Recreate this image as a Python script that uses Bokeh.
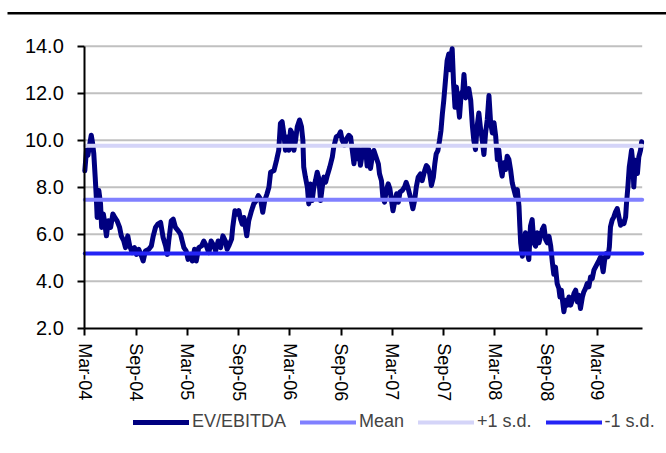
import pandas as pd
from bokeh.plotting import figure
from bokeh.models import (Range1d, FixedTicker, NumeralTickFormatter, DatetimeTickFormatter,
                          Legend, LegendItem, BoxAnnotation)
from bokeh.embed import file_html
from bokeh.resources import INLINE

# EV/EBITDA history: observation day (days after series start) and multiple
series_start = pd.Timestamp("2004-03-01")
day_offset = [
    0, 6, 11, 17, 23, 27, 32, 37, 41, 44, 50, 56, 60, 66, 70, 77, 84, 92, 100, 107,
    115, 124, 130, 139, 145, 153, 160, 169, 177, 184, 192, 202, 208, 216, 228, 237, 244, 252, 260, 270,
    279, 288, 294, 299, 308, 315, 323, 333, 341, 347, 353, 361, 368, 377, 383, 391, 397, 406, 416, 424,
    433, 442, 450, 460, 466, 475, 484, 492, 501, 507, 513, 523, 527, 535, 543, 549, 555, 561, 567, 577,
    584, 594, 602, 611, 618, 626, 634, 641, 649, 656, 662, 674, 683, 691, 697, 703, 709, 715, 721, 727,
    733, 739, 745, 751, 757, 765, 772, 777, 780, 786, 793, 798, 804, 810, 816, 822, 828, 834, 840, 846,
    852, 858, 864, 873, 882, 887, 896, 905, 911, 917, 925, 933, 941, 947, 953, 959, 965, 971, 976, 982,
    992, 1000, 1006, 1012, 1018, 1024, 1030, 1036, 1046, 1050, 1057, 1062, 1068, 1074, 1081, 1087, 1093, 1098, 1105, 1111,
    1117, 1123, 1131, 1139, 1145, 1151, 1157, 1163, 1169, 1175, 1181, 1188, 1196, 1202, 1211, 1217, 1222, 1229, 1235, 1242,
    1247, 1252, 1258, 1264, 1269, 1274, 1279, 1285, 1291, 1297, 1301, 1305, 1309, 1314, 1319, 1324, 1329, 1335, 1341, 1347,
    1351, 1357, 1363, 1368, 1375, 1381, 1386, 1392, 1398, 1404, 1410, 1416, 1422, 1428, 1434, 1440, 1446, 1452, 1458, 1464,
    1470, 1475, 1481, 1487, 1493, 1499, 1505, 1511, 1517, 1523, 1529, 1535, 1541, 1547, 1550, 1553, 1559, 1564, 1570, 1577,
    1582, 1588, 1594, 1600, 1606, 1612, 1618, 1624, 1630, 1636, 1642, 1648, 1654, 1660, 1666, 1671, 1677, 1683, 1689, 1693,
    1698, 1702, 1707, 1713, 1719, 1725, 1731, 1737, 1743, 1749, 1755, 1760, 1766, 1773, 1778, 1784, 1790, 1796, 1802, 1808,
    1814, 1820, 1826, 1832, 1838, 1844, 1847, 1852, 1858, 1864, 1869, 1873, 1879, 1885, 1891, 1897, 1903, 1909, 1915, 1921,
    1927, 1930, 1935, 1940, 1945, 1948, 1953, 1956, 1962, 1969, 1974, 1980, 1984,
]
ev_ebitda = [
    8.70, 9.57, 9.36, 9.79, 10.21, 9.93, 9.43, 8.43, 7.57, 6.71, 7.86, 7.29, 6.29, 6.86, 6.57, 5.93, 6.57, 6.29, 6.86, 6.71,
    6.57, 6.29, 5.93, 5.71, 5.43, 5.93, 5.50, 5.21, 5.43, 5.14, 5.36, 5.07, 4.86, 5.29, 5.36, 5.50, 5.93, 6.29, 6.43, 6.50,
    5.86, 5.50, 5.14, 5.71, 6.57, 6.64, 6.29, 6.14, 6.00, 5.71, 5.43, 5.29, 4.93, 5.14, 4.86, 5.36, 4.86, 5.43, 5.50, 5.71,
    5.50, 5.21, 5.71, 5.50, 5.29, 5.71, 5.43, 5.93, 5.71, 5.36, 5.50, 5.79, 6.29, 7.00, 6.86, 7.00, 6.64, 6.43, 6.71, 5.93,
    6.57, 7.00, 7.29, 7.43, 7.64, 7.50, 6.93, 7.43, 7.71, 8.00, 8.64, 8.71, 9.14, 9.57, 10.71, 10.79, 10.29, 9.57, 10.14, 9.57,
    10.43, 10.29, 9.57, 10.00, 10.57, 10.86, 10.57, 10.00, 8.86, 8.43, 8.00, 7.29, 8.14, 7.43, 8.00, 8.29, 8.64, 8.36, 7.43, 8.00,
    8.43, 8.21, 8.50, 8.86, 9.29, 9.71, 10.14, 10.21, 10.36, 10.00, 9.79, 10.07, 10.21, 10.14, 9.57, 9.00, 9.71, 9.21, 9.64, 8.93,
    9.64, 9.70, 8.90, 9.60, 8.80, 9.28, 9.56, 9.35, 8.99, 8.57, 8.28, 7.57, 7.36, 7.86, 8.14, 7.93, 7.43, 7.00, 7.43, 7.72,
    7.36, 7.79, 7.86, 8.00, 8.21, 8.00, 7.72, 7.43, 7.08, 7.43, 8.00, 8.43, 8.57, 8.28, 8.71, 8.92, 8.85, 8.57, 8.07, 8.43,
    8.99, 9.42, 9.56, 9.99, 10.41, 11.12, 11.69, 12.54, 13.39, 13.67, 13.00, 13.60, 13.89, 12.40, 11.40, 12.26, 11.69, 10.98, 11.97, 12.11,
    12.80, 11.80, 12.04, 12.20, 11.70, 10.60, 10.00, 9.60, 10.60, 11.16, 10.50, 10.03, 9.39, 10.31, 10.88, 11.90, 10.74, 10.31, 10.74, 10.17,
    9.18, 9.60, 8.89, 8.47, 9.04, 8.75, 9.32, 9.18, 8.75, 8.18, 7.90, 7.62, 7.90, 7.19, 6.34, 5.63, 5.06, 5.63, 6.06, 5.20,
    4.92, 6.34, 6.62, 5.63, 5.49, 6.06, 5.63, 5.91, 6.20, 6.34, 5.77, 5.63, 5.91, 5.50, 4.80, 4.30, 4.60, 3.90, 3.70, 3.33,
    3.62, 3.19, 2.70, 3.19, 2.98, 3.33, 2.98, 3.19, 3.48, 3.62, 3.12, 3.40, 2.84, 3.33, 3.55, 3.69, 3.90, 3.76, 4.18, 4.11,
    4.47, 4.61, 4.75, 4.89, 5.04, 4.61, 4.40, 4.89, 5.18, 5.04, 5.46, 6.31, 6.60, 6.74, 6.95, 7.09, 6.74, 6.38, 6.52, 6.45,
    6.74, 7.30, 8.01, 8.87, 9.29, 9.57, 9.00, 8.01, 9.15, 8.58, 9.29, 9.57, 9.93,
]

# Long-run average and one-standard-deviation bands
mean_level = 7.47
plus_one_sd = 9.76
minus_one_sd = 5.18

series_names = ["EV/EBITDA", "Mean", "+1 s.d.", "-1 s.d."]
series_colors = ["#000080", "#8080FF", "#D4D4F8", "#2424F5"]

x_tick_dates = ["2004-03-01", "2004-09-01", "2005-03-01", "2005-09-01", "2006-03-01", "2006-09-01",
                "2007-03-01", "2007-09-01", "2008-03-01", "2008-09-01", "2009-03-01"]
y_ticks = [2, 4, 6, 8, 10, 12, 14]
y_min, y_max = 2, 14
axis_span_days = 1986

FONT = "'Liberation Sans', Arial, sans-serif"

dates = series_start + pd.to_timedelta(day_offset, unit="D")
x_end = series_start + pd.Timedelta(days=axis_span_days)
to_ms = lambda t: pd.Timestamp(t).value // 10**6

# The frame fills the whole page; the axes sit at fixed data positions inside it
# so that the legend and the top rule can be drawn below / above the chart body.
p = figure(width=666, height=453, x_axis_type="datetime",
           x_range=Range1d(series_start - pd.Timedelta(days=300.4),
                           series_start + pd.Timedelta(days=2072.6)),
           y_range=Range1d(-3.332, 15.945),
           output_backend="svg", toolbar_location=None, min_border=0)
p.outline_line_color = None
p.background_fill_color = "white"
p.border_fill_color = "white"
p.grid.visible = False

# horizontal gridlines across the chart body
grid_levels = y_ticks[1:]
p.segment(x0=[series_start] * len(grid_levels), x1=[x_end] * len(grid_levels),
          y0=grid_levels, y1=grid_levels, line_color="#C0C0C0", line_width=2)

r_ev = p.line(dates, ev_ebitda, color=series_colors[0], line_width=5,
              line_join="round", line_cap="round")
band_x = [series_start, x_end]
r_mean = p.line(band_x, [mean_level, mean_level], color=series_colors[1], line_width=4, line_cap="round")
r_up = p.line(band_x, [plus_one_sd, plus_one_sd], color=series_colors[2], line_width=4, line_cap="round")
r_dn = p.line(band_x, [minus_one_sd, minus_one_sd], color=series_colors[3], line_width=4, line_cap="round")

xax = p.below[0]
yax = p.left[0]
xax.fixed_location = y_min
xax.bounds = (to_ms(series_start), to_ms(x_end))
yax.fixed_location = to_ms(series_start)
yax.bounds = (y_min, y_max)

xax.ticker = FixedTicker(ticks=[to_ms(d) for d in x_tick_dates])
fmt = "%b-%y"
xax.formatter = DatetimeTickFormatter(years=fmt, months=fmt, days=fmt, hours=fmt,
                                      minutes=fmt, seconds=fmt, milliseconds=fmt,
                                      microseconds=fmt, hourmin=fmt, minsec=fmt)
xax.major_label_orientation = "vertical"
yax.ticker = FixedTicker(ticks=y_ticks)
yax.formatter = NumeralTickFormatter(format="0.0")

for ax in (xax, yax):
    ax.axis_line_color = "black"
    ax.axis_line_width = 2
    ax.major_tick_line_color = "black"
    ax.major_tick_line_width = 2
    ax.major_tick_in = 0
    ax.major_tick_out = 7
    ax.minor_tick_line_color = None
    ax.major_label_text_font = FONT
    ax.major_label_text_color = "black"
yax.major_label_text_font_size = "20px"
xax.major_label_text_font_size = "18px"
yax.major_label_standoff = 14
xax.major_label_standoff = 8

legend = Legend(items=[LegendItem(label=n, renderers=[r]) for n, r in
                       zip(series_names, [r_ev, r_mean, r_up, r_dn])],
                location=(133, 21), orientation="horizontal",
                spacing=14, glyph_width=56, glyph_height=20, label_height=20,
                label_standoff=3, padding=0, margin=0,
                label_text_font=FONT, label_text_font_size="18px",
                border_line_color=None, background_fill_alpha=0)
p.add_layout(legend, "center")

# heavy rule across the top of the page
p.add_layout(BoxAnnotation(left=7, right=666, left_units="screen", right_units="screen",
                           top=15.455, bottom=15.349,
                           fill_color="black", fill_alpha=1, line_color=None))

open("out.html", "w").write(file_html(p, INLINE))
